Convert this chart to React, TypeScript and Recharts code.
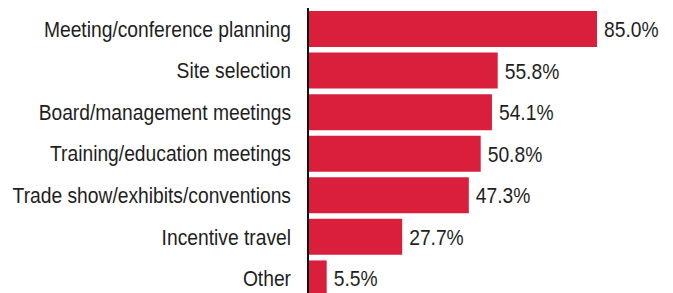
import { Bar, BarChart, LabelList, XAxis, YAxis } from "recharts";

const categories = [
  "Meeting/conference planning",
  "Site selection",
  "Board/management meetings",
  "Training/education meetings",
  "Trade show/exhibits/conventions",
  "Incentive travel",
  "Other",
];
const shares = [85.0, 55.8, 54.1, 50.8, 47.3, 27.7, 5.5];

const data = categories.map((name, i) => ({ name, value: shares[i] }));

const FONT = '"Liberation Sans", Arial, sans-serif';
const SQUEEZE = 0.875;

function CategoryTick(props: any) {
  const { x, y, payload } = props;
  return (
    <text
      transform={`translate(${x},${y}) scale(${SQUEEZE},1)`}
      textAnchor="end"
      dy="0.36em"
      fill="#1e1e1e"
      fontSize={22}
      fontFamily={FONT}
    >
      {payload.value}
    </text>
  );
}

function ValueLabel(props: any) {
  const { x, y, width, height, value } = props;
  const tx = Number(x) + Number(width) + 7;
  const ty = Number(y) + Number(height) / 2;
  return (
    <text
      transform={`translate(${tx},${ty}) scale(${SQUEEZE},1)`}
      textAnchor="start"
      dy="0.36em"
      fill="#1e1e1e"
      fontSize={22}
      fontFamily={FONT}
    >
      {`${Number(value).toFixed(1)}%`}
    </text>
  );
}

export default function App() {
  return (
    <div style={{ position: "absolute", left: 0, top: 0 }}>
      <BarChart
        width={673}
        height={300}
        data={data}
        layout="vertical"
        margin={{ top: 8, right: 76, bottom: 1, left: 0 }}
        barSize={36}
      >
        <XAxis type="number" domain={[0, 85]} hide />
        <YAxis
          type="category"
          dataKey="name"
          width={308}
          tickLine={false}
          tickSize={0}
          tickMargin={17}
          axisLine={{ stroke: "#111", strokeWidth: 2 }}
          tick={<CategoryTick />}
          interval={0}
        />
        <Bar dataKey="value" fill="#D91F3C" isAnimationActive={false}>
          <LabelList dataKey="value" content={<ValueLabel />} />
        </Bar>
      </BarChart>
    </div>
  );
}
